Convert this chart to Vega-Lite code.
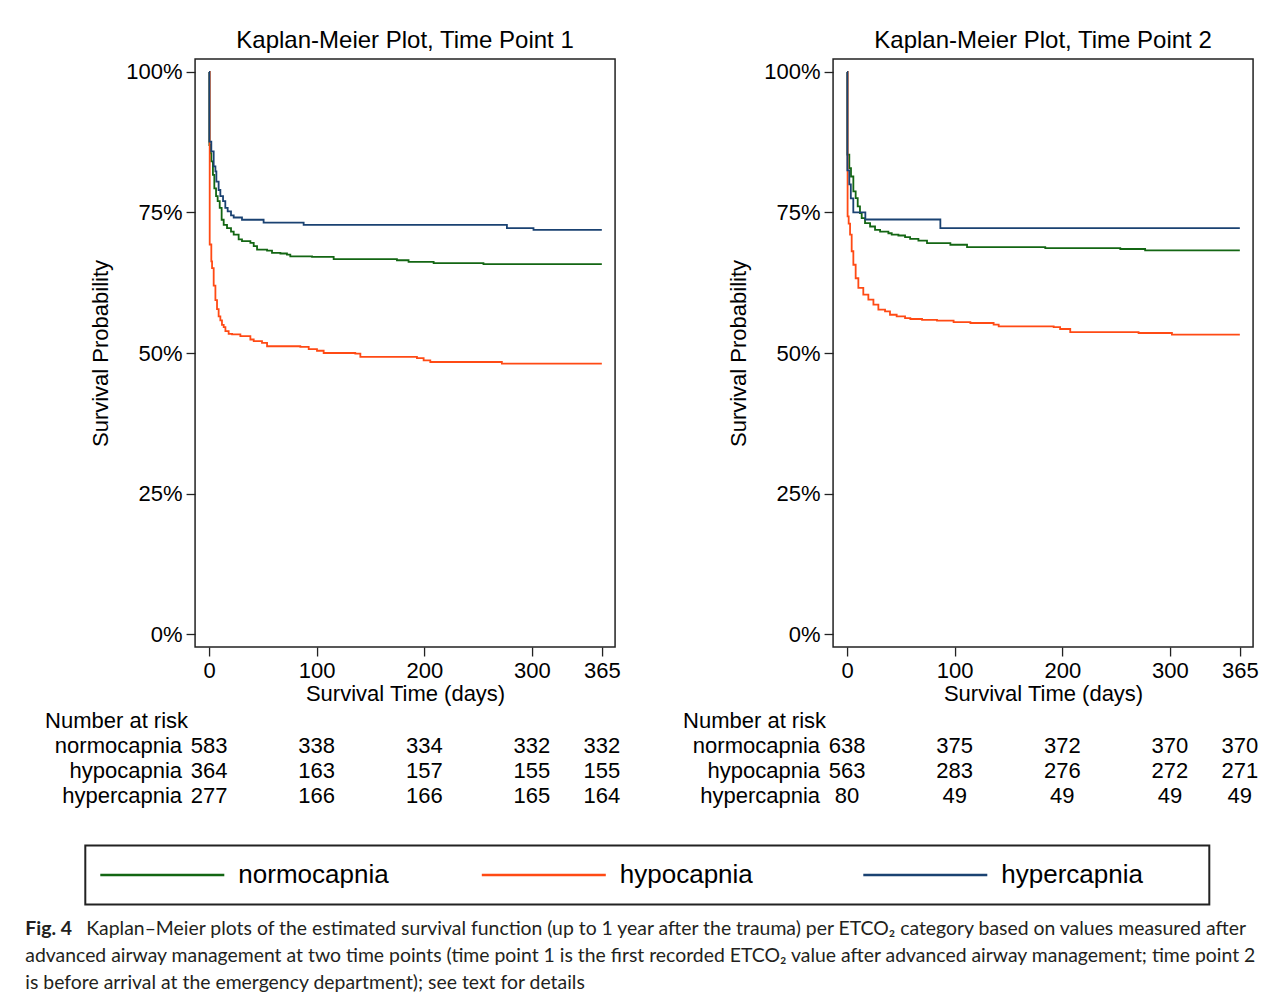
{
 "$schema": "https://vega.github.io/schema/vega-lite/v6.json",
 "padding": {"left": 25, "top": 28, "right": 0, "bottom": 0},
 "background": "white",
 "config": {
  "font": "Liberation Sans",
  "view": {"stroke": "#222", "strokeWidth": 1.5},
  "axis": {"grid": false, "domain": false, "tickColor": "#222", "tickSize": 9, "tickWidth": 1.3, "labelFontSize": 22, "labelColor": "black", "titleFontSize": 22, "titleFontWeight": "normal", "titleColor": "black", "labelFont": "Liberation Sans", "titleFont": "Liberation Sans"},
  "title": {"fontSize": 24, "fontWeight": "normal", "color": "black", "frame": "group", "anchor": "middle", "offset": 6, "font": "Liberation Sans"},
  "text": {"font": "Liberation Sans", "fontSize": 22, "color": "black"}
 },
 "datasets": {
  "km1": [
   {"g":"normocapnia","t":0,"s":1.0},{"g":"normocapnia","t":0.3,"s":0.87},{"g":"normocapnia","t":1.5,"s":0.855},{"g":"normocapnia","t":2.1,"s":0.841},{"g":"normocapnia","t":3.6,"s":0.817},{"g":"normocapnia","t":4.9,"s":0.793},{"g":"normocapnia","t":6.5,"s":0.779},{"g":"normocapnia","t":8,"s":0.770},{"g":"normocapnia","t":9.9,"s":0.758},{"g":"normocapnia","t":11.7,"s":0.737},{"g":"normocapnia","t":13.6,"s":0.728},{"g":"normocapnia","t":16.7,"s":0.722},{"g":"normocapnia","t":20.4,"s":0.716},{"g":"normocapnia","t":22.9,"s":0.7105},{"g":"normocapnia","t":27.5,"s":0.702},{"g":"normocapnia","t":30.6,"s":0.699},{"g":"normocapnia","t":38.4,"s":0.696},{"g":"normocapnia","t":41.5,"s":0.690},{"g":"normocapnia","t":44.6,"s":0.684},{"g":"normocapnia","t":53.9,"s":0.682},{"g":"normocapnia","t":58.5,"s":0.678},{"g":"normocapnia","t":66.3,"s":0.677},{"g":"normocapnia","t":72.4,"s":0.675},{"g":"normocapnia","t":75.5,"s":0.672},{"g":"normocapnia","t":95.7,"s":0.671},{"g":"normocapnia","t":115.8,"s":0.667},{"g":"normocapnia","t":174.6,"s":0.665},{"g":"normocapnia","t":185.4,"s":0.662},{"g":"normocapnia","t":208.7,"s":0.660},{"g":"normocapnia","t":255,"s":0.658},{"g":"normocapnia","t":365,"s":0.658},
   {"g":"hypocapnia","t":0,"s":1.0},{"g":"hypocapnia","t":0.6,"s":0.693},{"g":"hypocapnia","t":2.1,"s":0.663},{"g":"hypocapnia","t":2.8,"s":0.651},{"g":"hypocapnia","t":4.3,"s":0.62},{"g":"hypocapnia","t":5.9,"s":0.594},{"g":"hypocapnia","t":7.4,"s":0.578},{"g":"hypocapnia","t":8.9,"s":0.565},{"g":"hypocapnia","t":10.5,"s":0.558},{"g":"hypocapnia","t":12,"s":0.550},{"g":"hypocapnia","t":13.6,"s":0.546},{"g":"hypocapnia","t":15.2,"s":0.539},{"g":"hypocapnia","t":18.2,"s":0.534},{"g":"hypocapnia","t":21.4,"s":0.533},{"g":"hypocapnia","t":29.1,"s":0.530},{"g":"hypocapnia","t":38.4,"s":0.524},{"g":"hypocapnia","t":41.5,"s":0.521},{"g":"hypocapnia","t":49.2,"s":0.518},{"g":"hypocapnia","t":53.9,"s":0.512},{"g":"hypocapnia","t":84.8,"s":0.511},{"g":"hypocapnia","t":92.6,"s":0.507},{"g":"hypocapnia","t":100.3,"s":0.504},{"g":"hypocapnia","t":106.5,"s":0.500},{"g":"hypocapnia","t":135.9,"s":0.499},{"g":"hypocapnia","t":140.6,"s":0.493},{"g":"hypocapnia","t":193.2,"s":0.491},{"g":"hypocapnia","t":199.4,"s":0.487},{"g":"hypocapnia","t":205.6,"s":0.484},{"g":"hypocapnia","t":272.1,"s":0.481},{"g":"hypocapnia","t":365,"s":0.481},
   {"g":"hypercapnia","t":0,"s":1.0},{"g":"hypercapnia","t":0.3,"s":0.876},{"g":"hypercapnia","t":2.1,"s":0.8585},{"g":"hypercapnia","t":4.3,"s":0.832},{"g":"hypercapnia","t":5.9,"s":0.823},{"g":"hypercapnia","t":6.8,"s":0.805},{"g":"hypercapnia","t":8.9,"s":0.790},{"g":"hypercapnia","t":10.5,"s":0.779},{"g":"hypercapnia","t":13,"s":0.770},{"g":"hypercapnia","t":15.1,"s":0.758},{"g":"hypercapnia","t":17.3,"s":0.752},{"g":"hypercapnia","t":20.4,"s":0.745},{"g":"hypercapnia","t":22.9,"s":0.741},{"g":"hypercapnia","t":30.6,"s":0.737},{"g":"hypercapnia","t":50.7,"s":0.732},{"g":"hypercapnia","t":87.9,"s":0.728},{"g":"hypercapnia","t":276.8,"s":0.722},{"g":"hypercapnia","t":301.5,"s":0.719},{"g":"hypercapnia","t":365,"s":0.719}
  ],
  "km2": [
   {"g":"normocapnia","t":0,"s":1.0},{"g":"normocapnia","t":0.3,"s":0.853},{"g":"normocapnia","t":2.1,"s":0.829},{"g":"normocapnia","t":3.65,"s":0.814},{"g":"normocapnia","t":5.85,"s":0.7875},{"g":"normocapnia","t":8,"s":0.7756},{"g":"normocapnia","t":9.9,"s":0.761},{"g":"normocapnia","t":12,"s":0.749},{"g":"normocapnia","t":13.6,"s":0.740},{"g":"normocapnia","t":16.7,"s":0.731},{"g":"normocapnia","t":21.4,"s":0.725},{"g":"normocapnia","t":26,"s":0.719},{"g":"normocapnia","t":30.7,"s":0.716},{"g":"normocapnia","t":38.4,"s":0.713},{"g":"normocapnia","t":41.5,"s":0.7105},{"g":"normocapnia","t":47.7,"s":0.709},{"g":"normocapnia","t":53.9,"s":0.706},{"g":"normocapnia","t":58.6,"s":0.703},{"g":"normocapnia","t":66.3,"s":0.700},{"g":"normocapnia","t":74.3,"s":0.6956},{"g":"normocapnia","t":96,"s":0.6926},{"g":"normocapnia","t":111.5,"s":0.6885},{"g":"normocapnia","t":184.2,"s":0.6867},{"g":"normocapnia","t":253.9,"s":0.685},{"g":"normocapnia","t":277,"s":0.6826},{"g":"normocapnia","t":365,"s":0.6826},
   {"g":"hypocapnia","t":0,"s":1.0},{"g":"hypocapnia","t":0.5,"s":0.743},{"g":"hypocapnia","t":1.5,"s":0.730},{"g":"hypocapnia","t":2.8,"s":0.7105},{"g":"hypocapnia","t":4.3,"s":0.681},{"g":"hypocapnia","t":5.85,"s":0.657},{"g":"hypocapnia","t":8,"s":0.633},{"g":"hypocapnia","t":10.5,"s":0.616},{"g":"hypocapnia","t":15.1,"s":0.604},{"g":"hypocapnia","t":19.8,"s":0.595},{"g":"hypocapnia","t":24.5,"s":0.586},{"g":"hypocapnia","t":29.1,"s":0.577},{"g":"hypocapnia","t":35.3,"s":0.574},{"g":"hypocapnia","t":39.9,"s":0.568},{"g":"hypocapnia","t":46.1,"s":0.565},{"g":"hypocapnia","t":53.9,"s":0.562},{"g":"hypocapnia","t":58.8,"s":0.5605},{"g":"hypocapnia","t":69.7,"s":0.559},{"g":"hypocapnia","t":83.6,"s":0.5575},{"g":"hypocapnia","t":99,"s":0.555},{"g":"hypocapnia","t":114.6,"s":0.5534},{"g":"hypocapnia","t":136.2,"s":0.5504},{"g":"hypocapnia","t":140.9,"s":0.5474},{"g":"hypocapnia","t":192,"s":0.546},{"g":"hypocapnia","t":198,"s":0.5427},{"g":"hypocapnia","t":207.4,"s":0.537},{"g":"hypocapnia","t":270.9,"s":0.5356},{"g":"hypocapnia","t":301.9,"s":0.5326},{"g":"hypocapnia","t":365,"s":0.5326},
   {"g":"hypercapnia","t":0,"s":1.0},{"g":"hypercapnia","t":0.3,"s":0.825},{"g":"hypercapnia","t":2.1,"s":0.800},{"g":"hypercapnia","t":3.5,"s":0.775},{"g":"hypercapnia","t":5.8,"s":0.750},{"g":"hypercapnia","t":17,"s":0.7375},{"g":"hypercapnia","t":86.7,"s":0.722},{"g":"hypercapnia","t":365,"s":0.722}
  ],
  "risk1": [
   {"g":"normocapnia","t":0,"n":583},{"g":"normocapnia","t":100,"n":338},{"g":"normocapnia","t":200,"n":334},{"g":"normocapnia","t":300,"n":332},{"g":"normocapnia","t":365,"n":332},
   {"g":"hypocapnia","t":0,"n":364},{"g":"hypocapnia","t":100,"n":163},{"g":"hypocapnia","t":200,"n":157},{"g":"hypocapnia","t":300,"n":155},{"g":"hypocapnia","t":365,"n":155},
   {"g":"hypercapnia","t":0,"n":277},{"g":"hypercapnia","t":100,"n":166},{"g":"hypercapnia","t":200,"n":166},{"g":"hypercapnia","t":300,"n":165},{"g":"hypercapnia","t":365,"n":164}
  ],
  "risk2": [
   {"g":"normocapnia","t":0,"n":638},{"g":"normocapnia","t":100,"n":375},{"g":"normocapnia","t":200,"n":372},{"g":"normocapnia","t":300,"n":370},{"g":"normocapnia","t":365,"n":370},
   {"g":"hypocapnia","t":0,"n":563},{"g":"hypocapnia","t":100,"n":283},{"g":"hypocapnia","t":200,"n":276},{"g":"hypocapnia","t":300,"n":272},{"g":"hypocapnia","t":365,"n":271},
   {"g":"hypercapnia","t":0,"n":80},{"g":"hypercapnia","t":100,"n":49},{"g":"hypercapnia","t":200,"n":49},{"g":"hypercapnia","t":300,"n":49},{"g":"hypercapnia","t":365,"n":49}
  ],
  "caption": [
   {"line":"1","label":"Fig. 4","text":"Kaplan–Meier plots of the estimated survival function (up to 1 year after the trauma) per ETCO₂ category based on values measured after"},
   {"line":"2","label":"","text":"advanced airway management at two time points (time point 1 is the first recorded ETCO₂ value after advanced airway management; time point 2"},
   {"line":"3","label":"","text":"is before arrival at the emergency department); see text for details"}
  ]
 },
 "center": true,
 "spacing": 36.5,
 "vconcat": [
  {
   "spacing": 61,
   "hconcat": [
    {
     "spacing": 3,
     "resolve": {"scale": {"x": "independent", "y": "independent"}},
     "vconcat": [
      {
       "width": 420, "height": 588,
       "title": {"text": "Kaplan-Meier Plot, Time Point 1"},
       "data": {"name": "km1"},
       "mark": {"type": "line", "interpolate": "step-after", "strokeWidth": 1.8},
       "encoding": {
        "x": {"field": "t", "type": "quantitative", "scale": {"domain": [-13, 377.3], "nice": false, "zero": false}, "axis": {"values": [0, 100, 200, 300, 365], "title": "Survival Time (days)", "labelPadding": 4, "titlePadding": 2, "labelFlush": false}},
        "y": {"field": "s", "type": "quantitative", "scale": {"domain": [-0.023, 1.023], "nice": false, "zero": false}, "axis": {"values": [0, 0.25, 0.5, 0.75, 1], "format": ".0%", "title": "Survival Probability", "labelPadding": 4, "titlePadding": 13}},
        "color": {"field": "g", "type": "nominal", "scale": {"domain": ["normocapnia", "hypocapnia", "hypercapnia"], "range": ["#136613", "#ff4a14", "#1a4272"]}, "legend": null}
       }
      },
      {
       "width": 420, "height": 100,
       "view": {"stroke": null},
       "data": {"name": "risk1"},
       "encoding": {
        "y": {"field": "g", "type": "nominal", "scale": {"type": "point", "domain": ["Number at risk", "normocapnia", "hypocapnia", "hypercapnia"], "padding": 0.5}, "axis": null}
       },
       "layer": [
        {"mark": {"type": "text", "align": "center", "baseline": "middle"}, "encoding": {"x": {"field": "t", "type": "quantitative", "scale": {"domain": [-13, 377.3], "nice": false, "zero": false}, "axis": null}, "text": {"field": "n"}}},
        {"transform": [{"filter": "datum.t == 0"}], "mark": {"type": "text", "align": "right", "baseline": "middle", "dx": -27}, "encoding": {"x": {"datum": 0, "type": "quantitative"}, "text": {"field": "g"}}},
        {"data": {"values": [{"g": "Number at risk"}]}, "mark": {"type": "text", "align": "left", "baseline": "middle", "dx": -164}, "encoding": {"x": {"datum": 0, "type": "quantitative"}, "text": {"field": "g"}}}
       ]
      }
     ]
    },
    {
     "spacing": 3,
     "resolve": {"scale": {"x": "independent", "y": "independent"}},
     "vconcat": [
      {
       "width": 420, "height": 588,
       "title": {"text": "Kaplan-Meier Plot, Time Point 2"},
       "data": {"name": "km2"},
       "mark": {"type": "line", "interpolate": "step-after", "strokeWidth": 1.8},
       "encoding": {
        "x": {"field": "t", "type": "quantitative", "scale": {"domain": [-13, 377.3], "nice": false, "zero": false}, "axis": {"values": [0, 100, 200, 300, 365], "title": "Survival Time (days)", "labelPadding": 4, "titlePadding": 2, "labelFlush": false}},
        "y": {"field": "s", "type": "quantitative", "scale": {"domain": [-0.023, 1.023], "nice": false, "zero": false}, "axis": {"values": [0, 0.25, 0.5, 0.75, 1], "format": ".0%", "title": "Survival Probability", "labelPadding": 4, "titlePadding": 13}},
        "color": {"field": "g", "type": "nominal", "scale": {"domain": ["normocapnia", "hypocapnia", "hypercapnia"], "range": ["#136613", "#ff4a14", "#1a4272"]}, "legend": null}
       }
      },
      {
       "width": 420, "height": 100,
       "view": {"stroke": null},
       "data": {"name": "risk2"},
       "encoding": {
        "y": {"field": "g", "type": "nominal", "scale": {"type": "point", "domain": ["Number at risk", "normocapnia", "hypocapnia", "hypercapnia"], "padding": 0.5}, "axis": null}
       },
       "layer": [
        {"mark": {"type": "text", "align": "center", "baseline": "middle"}, "encoding": {"x": {"field": "t", "type": "quantitative", "scale": {"domain": [-13, 377.3], "nice": false, "zero": false}, "axis": null}, "text": {"field": "n"}}},
        {"transform": [{"filter": "datum.t == 0"}], "mark": {"type": "text", "align": "right", "baseline": "middle", "dx": -27}, "encoding": {"x": {"datum": 0, "type": "quantitative"}, "text": {"field": "g"}}},
        {"data": {"values": [{"g": "Number at risk"}]}, "mark": {"type": "text", "align": "left", "baseline": "middle", "dx": -164}, "encoding": {"x": {"datum": 0, "type": "quantitative"}, "text": {"field": "g"}}}
       ]
      }
     ]
    }
   ]
  },
  {
   "spacing": 9.5,
   "vconcat": [
    {
     "width": 1124, "height": 59,
     "view": {"stroke": "#222", "strokeWidth": 2},
     "data": {"values": [{"g": "normocapnia"}, {"g": "hypocapnia"}, {"g": "hypercapnia"}]},
     "encoding": {
      "x": {"field": "g", "type": "nominal", "scale": {"type": "point", "domain": ["normocapnia", "hypocapnia", "hypercapnia"], "range": [15, 778], "padding": 0}, "axis": null},
      "y": {"datum": 0.5, "type": "quantitative", "scale": {"domain": [0, 1]}, "axis": null}
     },
     "layer": [
      {"mark": {"type": "rule", "strokeWidth": 2.5, "x2Offset": 124}, "encoding": {"x2": {"field": "g"}, "color": {"field": "g", "type": "nominal", "scale": {"domain": ["normocapnia", "hypocapnia", "hypercapnia"], "range": ["#136613", "#ff4a14", "#1a4272"]}, "legend": null}}},
      {"mark": {"type": "text", "align": "left", "baseline": "middle", "dx": 138, "fontSize": 26, "color": "black"}, "encoding": {"text": {"field": "g"}}}
     ]
    },
    {
     "width": 1283.4, "height": 81,
     "view": {"stroke": null},
     "data": {"name": "caption"},
     "encoding": {
      "x": {"datum": 0, "type": "quantitative", "scale": {"domain": [0, 1]}, "axis": null},
      "y": {"field": "line", "type": "nominal", "scale": {"type": "point", "domain": ["1", "2", "3"], "padding": 0.5}, "axis": null}
     },
     "layer": [
      {"transform": [{"filter": "datum.line == '1'"}], "mark": {"type": "text", "align": "left", "baseline": "middle", "font": "Lato", "fontSize": 19.4, "fontWeight": "bold", "color": "#231f20", "dx": -60}, "encoding": {"text": {"field": "label"}}},
      {"transform": [{"filter": "datum.line == '1'"}], "mark": {"type": "text", "align": "left", "baseline": "middle", "font": "Lato", "fontSize": 19.4, "color": "#231f20", "dx": 1}, "encoding": {"text": {"field": "text"}}},
      {"transform": [{"filter": "datum.line != '1'"}], "mark": {"type": "text", "align": "left", "baseline": "middle", "font": "Lato", "fontSize": 19.4, "color": "#231f20", "dx": -60}, "encoding": {"text": {"field": "text"}}}
     ]
    }
   ]
  }
 ]
}
